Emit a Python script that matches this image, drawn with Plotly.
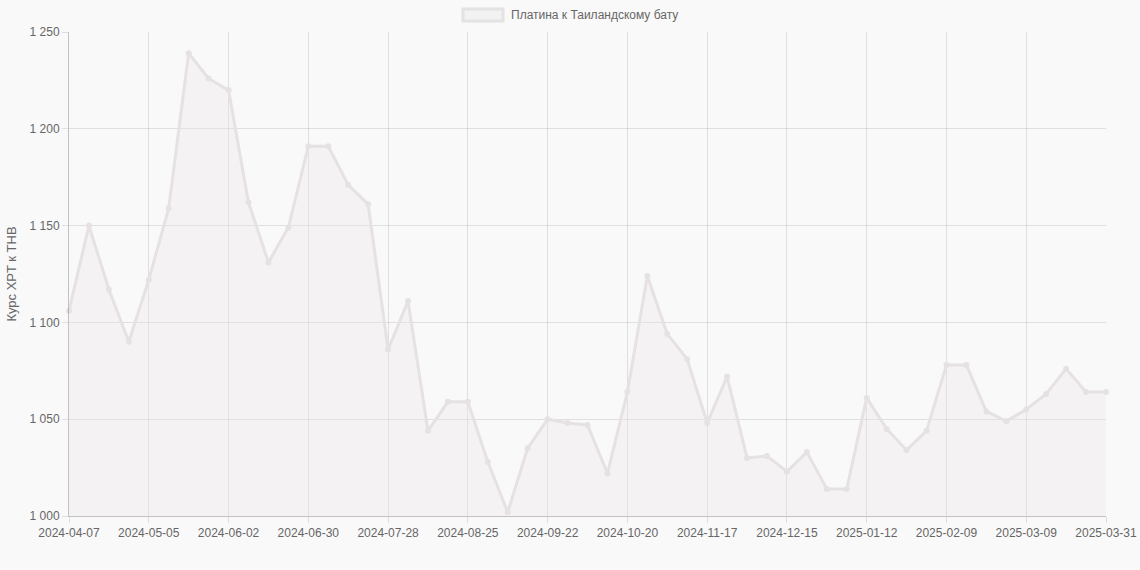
import datetime as dt
import plotly.graph_objects as go

# ---- data ----
start = dt.date(2024, 4, 7)
dates = [(start + dt.timedelta(weeks=i)).isoformat() for i in range(52)] + ["2025-03-31"]

values = [
    1106, 1150, 1117, 1090, 1122, 1159, 1239, 1226, 1220, 1162,
    1131, 1149, 1191, 1191, 1171, 1161, 1086, 1111, 1044, 1059,
    1059, 1028, 1002, 1035, 1050, 1048, 1047, 1022, 1064, 1124,
    1094, 1081, 1048, 1072, 1030, 1031, 1023, 1033, 1014, 1014,
    1061, 1045, 1034, 1044, 1078, 1078, 1054, 1049, 1055, 1063,
    1076, 1064, 1064,
]

tick_labels = [dates[i] for i in range(0, 52, 4)] + [dates[-1]]

series_name = "Платина к Таиландскому бату"
y_title = "Курс XPT к THB"

# ---- figure ----
W, H = 1140, 570
ml, mr, mt, mb = 69, 34, 32, 54
pw, ph = W - ml - mr, H - mt - mb

line_col = "#e6e2e2"
fill_col = "rgba(238,228,232,0.35)"
grid_col = "rgba(0,0,0,0.1)"
axis_col = "rgba(0,0,0,0.22)"
text_col = "#666666"
font_fam = "Liberation Sans, Arial, Helvetica, sans-serif"

fig = go.Figure()
fig.add_trace(go.Scatter(
    x=dates, y=values, mode="lines+markers", name=series_name,
    line=dict(color=line_col, width=3),
    marker=dict(color=line_col, size=6),
    fill="tozeroy", fillcolor=fill_col,
    cliponaxis=False, showlegend=False,
))

def px_x(p):
    return (p - ml) / pw

def px_y(p):
    return (H - mb - p) / ph

# legend box (Chart.js style)
fig.add_shape(type="rect", xref="paper", yref="paper",
              x0=px_x(463), x1=px_x(503), y0=px_y(21), y1=px_y(9),
              line=dict(color="#e4e2e2", width=3), fillcolor="#f3f2f2")
fig.add_annotation(xref="paper", yref="paper", x=px_x(509), y=px_y(15),
                   text=series_name, showarrow=False, xanchor="left", yanchor="middle",
                   font=dict(family=font_fam, size=12, color=text_col))

fig.update_layout(
    width=W, height=H,
    margin=dict(l=ml, r=mr, t=mt, b=mb, pad=0, autoexpand=False),
    paper_bgcolor="#f9f9f9", plot_bgcolor="#f9f9f9",
    separators=". ",
    font=dict(family=font_fam, size=12, color=text_col),
    xaxis=dict(
        type="category", range=[0, len(dates) - 1], automargin=False,
        tickmode="array", tickvals=tick_labels, ticktext=tick_labels,
        showgrid=True, gridcolor=grid_col, gridwidth=1,
        showline=True, linecolor=axis_col, linewidth=1,
        ticks="outside", ticklen=6, tickcolor=grid_col,
        tickfont=dict(size=12, color=text_col), tickangle=0,
        zeroline=False, mirror=False,
    ),
    yaxis=dict(
        range=[1000, 1250], dtick=50, tick0=1000, tickformat=",d", automargin=False,
        showgrid=True, gridcolor=grid_col, gridwidth=1,
        showline=True, linecolor=axis_col, linewidth=1,
        ticks="outside", ticklen=6, tickcolor=grid_col,
        tickfont=dict(size=12, color=text_col),
        title=dict(text=y_title, font=dict(size=13, color=text_col), standoff=10),
        zeroline=False,
    ),
)

fig.write_html(
    "out.html",
    config={"displayModeBar": False},
    post_script="document.body.style.margin='0';document.body.style.background='#f9f9f9';",
)
